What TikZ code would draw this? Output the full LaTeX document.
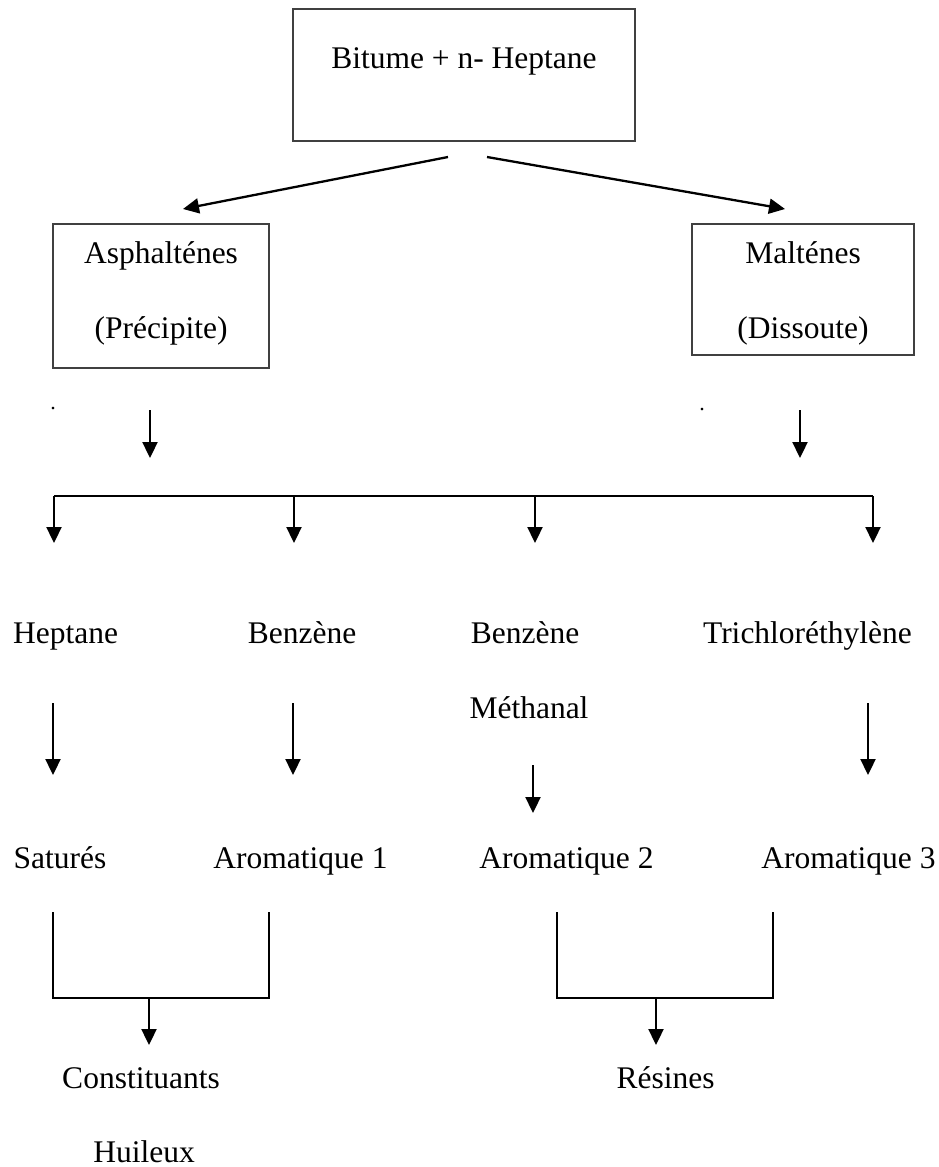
\documentclass[tikz,border=0pt]{standalone}
\usepackage{fontspec}
\setmainfont{Liberation Serif}
\usetikzlibrary{arrows.meta}
\begin{document}
\begin{tikzpicture}[x=1pt,y=-1pt,
  txt/.style={font=\fontsize{31.5}{75}\selectfont, inner sep=0pt, anchor=base},
  frame/.style={draw=black!75, line width=1.3pt, font=\fontsize{31.5}{75}\selectfont,
    align=center, inner sep=0pt},
  link/.style={line width=2.3pt, -{Triangle[length=16pt,width=15pt]}},
  bar/.style={line width=2.3pt},
  spot/.style={font=\fontsize{22}{22}\selectfont, inner sep=0pt, anchor=center}]
\useasboundingbox (0,0) rectangle (938,1167);

% boxes
\node[frame, minimum width=342pt, minimum height=132pt, text height=21pt, text depth=35pt]
  (feed) at (464,75) {Bitume + n- Heptane};
\node[frame, minimum width=216pt, minimum height=144pt, text height=97pt, text depth=13pt]
  (asph) at (161,296) {Asphalténes\\(Précipite)};
\node[frame, minimum width=222pt, minimum height=131pt, text height=98pt, text depth=0pt]
  (malt) at (803,289.5) {Malténes\\(Dissoute)};

% stray marks left of the arrows
\node[spot] (dotA) at (53,409) {.};
\node[spot] (dotB) at (702,410) {.};

% solvents
\node[txt] (hep)  at (65.5,643) {Heptane};
\node[txt] (benA) at (302,643)  {Benzène};
\node[txt] (benB) at (525,643)  {Benzène};
\node[txt] (tri)  at (807.5,643) {Trichloréthylène};
\node[txt] (meth) at (529,718)  {Méthanal};

% fractions
\node[txt] (sat)  at (60,868)    {Saturés};
\node[txt] (aroA) at (300.5,868) {Aromatique 1};
\node[txt] (aroB) at (566.5,868) {Aromatique 2};
\node[txt] (aroC) at (848.5,868) {Aromatique 3};

% groups
\node[txt] (cons) at (141,1088) {Constituants};
\node[txt, text depth=0pt] (huil) at (144,1162) {Huileux};
\node[txt] (res)  at (665.5,1088) {Résines};

% arrow end points
\coordinate (fl) at (448,157);
\coordinate (fr) at (487,157);
\coordinate (tl) at (183,209);
\coordinate (tr) at (785,209);
\draw[link] (fl) -- (tl);
\draw[link] (fr) -- (tr);

\coordinate (a1) at (150,410); \coordinate (a2) at (150,458);
\coordinate (m1) at (800,410); \coordinate (m2) at (800,458);
\draw[link] (a1) -- (a2);
\draw[link] (m1) -- (m2);

% distribution fork
\coordinate (k1) at (54,496);  \coordinate (k2) at (294,496);
\coordinate (k3) at (535,496); \coordinate (k4) at (873,496);
\draw[bar] (k1) -- (k4);
\foreach \k in {k1,k2,k3,k4} \draw[link] (\k) -- ++(0,47);

% solvent -> fraction arrows
\draw[link] (53,703) coordinate (s1) -- ++(0,72);
\draw[link] (293,703) coordinate (s2) -- ++(0,72);
\draw[link] (868,703) coordinate (s4) -- ++(0,72);
\draw[link] (533,765) coordinate (s3) -- ++(0,48);

% brackets
\draw[bar] (53,912) coordinate (bl1) |- (269,998) coordinate (bl2) -- (269,912);
\draw[link] (149,998) coordinate (cl) -- ++(0,47);
\draw[bar] (557,912) coordinate (br1) |- (773,998) coordinate (br2) -- (773,912);
\draw[link] (656,998) coordinate (cr) -- ++(0,47);
\end{tikzpicture}
\end{document}
